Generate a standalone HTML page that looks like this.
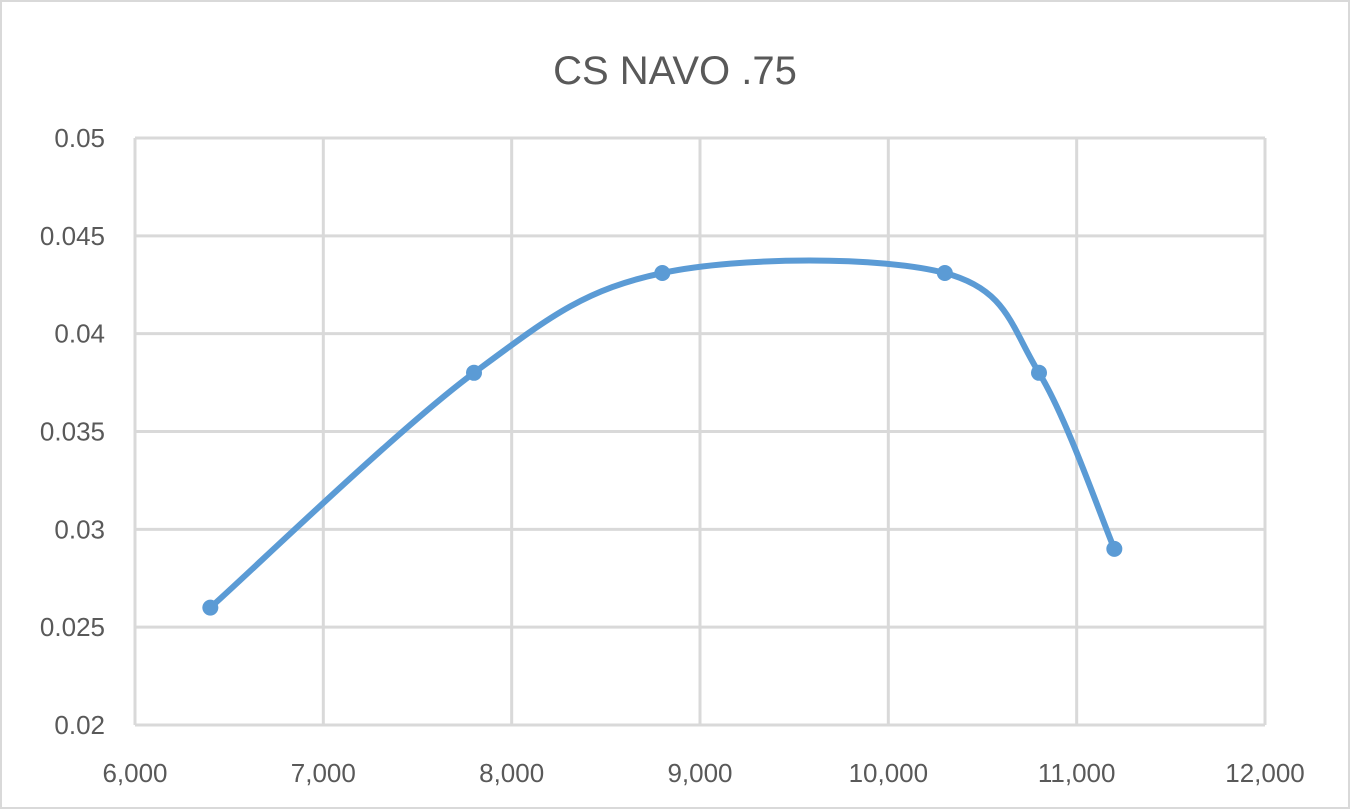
<!DOCTYPE html>
<html><head><meta charset="utf-8"><style>
body{margin:0;background:#fff;}
svg{display:block;font-family:"Liberation Sans",sans-serif;}
</style></head><body>
<svg id="chart" width="1350" height="809">
<rect x="1" y="1" width="1348" height="807" fill="#fff" stroke="#d9d9d9" stroke-width="2"/>
<text x="675" y="84" text-anchor="middle" font-size="40" fill="#595959">CS NAVO .75</text>
<g id="grid"></g><g id="axes"></g><g id="series"></g>
</svg>
<script>
const xTicks=[6000,7000,8000,9000,10000,11000,12000];
const xTickLabels=["6,000","7,000","8,000","9,000","10,000","11,000","12,000"];
const yTicks=[0.02,0.025,0.03,0.035,0.04,0.045,0.05];
const yTickLabels=["0.02","0.025","0.03","0.035","0.04","0.045","0.05"];
const xValues=[6400,7800,8800,10300,10800,11200];
const yValues=[0.026,0.038,0.0431,0.0431,0.038,0.029];
const L=135,R=1265,T=138,B=725;
const xS=v=>L+(v-6000)/6000*(R-L);
const yS=v=>B-(v-0.02)/0.03*(B-T);
const NS="http://www.w3.org/2000/svg";
function mk(tag,attrs,parent){const e=document.createElementNS(NS,tag);for(const k in attrs)e.setAttribute(k,attrs[k]);document.getElementById(parent).appendChild(e);return e;}
xTicks.forEach((t,i)=>{
 const g=mk('line',{x1:xS(t),x2:xS(t),y1:T,y2:B,stroke:'#d9d9d9','stroke-width':3},'grid');
 
 
 const tx=mk('text',{x:xS(t),y:782,'text-anchor':'middle','font-size':26,fill:'#595959'},'axes');
 tx.textContent=xTickLabels[i];
 
 
});
yTicks.forEach((t,i)=>{
 const g=mk('line',{x1:L,x2:R,y1:yS(t),y2:yS(t),stroke:'#d9d9d9','stroke-width':3},'grid');
 
 
 const tx=mk('text',{x:105,y:yS(t)+9,'text-anchor':'end','font-size':26,fill:'#595959'},'axes');
 tx.textContent=yTickLabels[i];
 
 
});
const pts=xValues.map((x,i)=>[xS(x),yS(yValues[i])]);
let d=`M${pts[0][0]},${pts[0][1]}`;
for(let i=0;i<pts.length-1;i++){
 const p0=pts[Math.max(i-1,0)],p1=pts[i],p2=pts[i+1],p3=pts[Math.min(i+2,pts.length-1)];
 const c1=[p1[0]+(p2[0]-p0[0])/6,p1[1]+(p2[1]-p0[1])/6];
 const c2=[p2[0]-(p3[0]-p1[0])/6,p2[1]-(p3[1]-p1[1])/6];
 d+=` C${c1[0]},${c1[1]} ${c2[0]},${c2[1]} ${p2[0]},${p2[1]}`;
}
const path=mk('path',{d:d,fill:'none',stroke:'#5b9bd5','stroke-width':6,'stroke-linecap':'round'},'series');


pts.forEach(p=>{
 const c=mk('circle',{cx:p[0],cy:p[1],r:8,fill:'#5b9bd5'},'series');
 
 
});
</script>
</body></html>
